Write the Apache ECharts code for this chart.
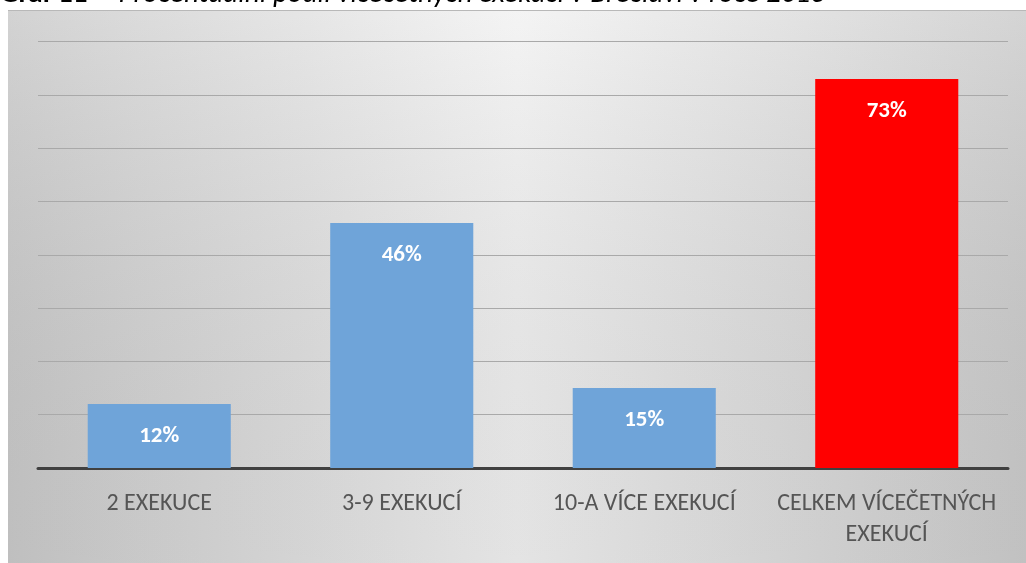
<!DOCTYPE html>
<html>
<head>
<meta charset="utf-8">
<script src="https://cdn.jsdelivr.net/npm/echarts@6/dist/echarts.min.js"></script>
<style>
  html, body { margin: 0; padding: 0; background: #fff; }
  #chart { width: 1026px; height: 563px; }
</style>
</head>
<body>
<div id="chart"></div>
<script>
// data
const categories = ["2 EXEKUCE", "3-9 EXEKUCÍ", "10-A VÍCE EXEKUCÍ", "CELKEM VÍCEČETNÝCH\nEXEKUCÍ"];
const percents = [12, 46, 15, 73];
const yTicks = [0, 10, 20, 30, 40, 50, 60, 70, 80];
const totalIndex = 3; // the red "celkem" bar

const FONT = "Calibri, Carlito, Lato, sans-serif";

const chart = echarts.init(document.getElementById("chart"));

const option = {
  animation: false,
  backgroundColor: "#ffffff",
  title: {
    text: "{b|Graf 11}  {i|– Procentuální podíl vícečetných exekucí v Břeclavi v roce 2013}",
    left: 0,
    top: -20,
    padding: 0,
    textStyle: {
      fontWeight: "normal",
      rich: {
        b: { fontFamily: FONT, fontSize: 29, fontWeight: "bold", color: "#000" },
        i: { fontFamily: FONT, fontSize: 29, fontStyle: "italic", fontWeight: "normal", color: "#000" }
      }
    }
  },
  graphic: [
    {
      type: "rect",
      z: -10,
      silent: true,
      shape: { x: 8, y: 10, width: 1018, height: 553 },
      style: {
        fill: new echarts.graphic.LinearGradient(0, 0, 1, 0, [
          { offset: 0, color: "#cbcbcb" },
          { offset: 0.5, color: "#f2f2f2" },
          { offset: 1, color: "#cdcdcd" }
        ])
      }
    },
    {
      type: "rect",
      z: -9,
      silent: true,
      shape: { x: 8, y: 10, width: 1018, height: 553 },
      style: {
        fill: new echarts.graphic.LinearGradient(0, 0, 0, 1, [
          { offset: 0, color: "rgba(255,255,255,0.15)" },
          { offset: 1, color: "rgba(0,0,0,0.06)" }
        ])
      }
    },
    {
      type: "line",
      z: -8,
      silent: true,
      shape: { x1: 8, y1: 10.5, x2: 1026, y2: 10.5 },
      style: { stroke: "#b8b8b8", lineWidth: 1 }
    }
  ],
  grid: {
    left: 38,
    right: 18,
    top: 41.7,
    bottom: 95,
    containLabel: false
  },
  xAxis: {
    type: "category",
    data: categories,
    axisLine: { show: true, lineStyle: { color: "#404040", width: 3 } },
    axisTick: { show: false },
    axisLabel: {
      interval: 0,
      margin: 20,
      color: "#555555",
      fontFamily: FONT,
      fontSize: 24,
      lineHeight: 31
    }
  },
  yAxis: {
    type: "value",
    min: yTicks[0],
    max: yTicks[yTicks.length - 1],
    interval: yTicks[1] - yTicks[0],
    axisLine: { show: false },
    axisTick: { show: false },
    axisLabel: { show: false },
    splitLine: { lineStyle: { color: "#a9a9a9", width: 1 } }
  },
  series: [
    {
      type: "bar",
      barCategoryGap: "41%",
      data: percents.map((v, i) => ({
        value: v,
        itemStyle: { color: i === totalIndex ? "#ff0000" : "#6fa4d9" }
      })),
      label: {
        show: true,
        position: "insideTop",
        distance: 21,
        formatter: "{c}%",
        color: "#ffffff",
        fontFamily: FONT,
        fontWeight: "bold",
        fontSize: 23
      }
    }
  ]
};

chart.setOption(option);
</script>
</body>
</html>
